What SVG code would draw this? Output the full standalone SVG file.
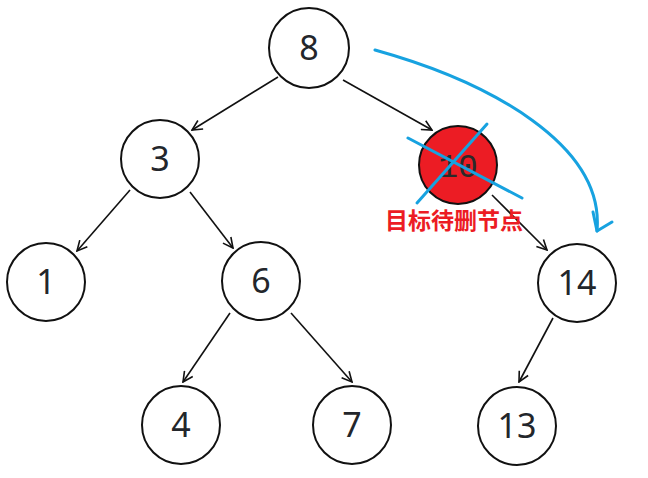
<svg xmlns="http://www.w3.org/2000/svg" width="648" height="478" viewBox="0 0 648 478">
<style>
.n{fill:#fff;stroke:#111;stroke-width:2}
.t{font-family:"Noto Sans","Open Sans",sans-serif;font-size:34px;fill:#23262b;text-anchor:middle}
.e{stroke:#111;stroke-width:1.6;fill:none;marker-end:url(#ah)}
.b{stroke:#17a2e0;stroke-width:3;fill:none;stroke-linecap:round;stroke-linejoin:round}
</style>
<defs>
<marker id="ah" viewBox="0 0 12 12" refX="11" refY="6" markerWidth="12" markerHeight="12" markerUnits="userSpaceOnUse" orient="auto">
<path d="M1,1 L11,6 L1,11" fill="none" stroke="#111" stroke-width="1.6"/>
</marker>
</defs>
<g id="connectors">
<line class="e" x1="278" y1="77" x2="192" y2="130"/>
<line class="e" x1="343" y1="80" x2="432" y2="130"/>
<line class="e" x1="130" y1="190" x2="77" y2="251"/>
<line class="e" x1="190" y1="192" x2="233" y2="248"/>
<line class="e" x1="230" y1="313" x2="183" y2="382"/>
<line class="e" x1="291" y1="313" x2="352" y2="382"/>
<line class="e" x1="492" y1="195" x2="547" y2="250"/>
<line class="e" x1="553" y1="318" x2="519" y2="382"/>
<path class="b" d="M375,50 C490,82 605,145 597,231"/>
<path class="b" d="M593,212 L597,231 L612,222"/>
</g>
<g id="n8"><circle class="n" cx="309" cy="48" r="40"/><text class="t" x="309" y="60">8</text></g>
<g id="n3"><circle class="n" cx="160" cy="159" r="39"/><text class="t" x="160" y="171">3</text></g>
<g id="n10">
<circle cx="458" cy="165" r="39" fill="#ec1c24" stroke="#111" stroke-width="2"/>
<text x="458" y="177" font-family="Liberation Mono,monospace" font-size="33" fill="#2a2a2a" text-anchor="middle">10</text>
<line class="b" x1="408" y1="138" x2="522" y2="198"/>
<line class="b" x1="487" y1="124" x2="417" y2="203"/>
<text x="454" y="229" font-family="Noto Sans CJK SC,sans-serif" font-weight="bold" font-size="23" fill="#ec1c24" text-anchor="middle">目标待删节点</text>
</g>
<g id="n1"><circle class="n" cx="46" cy="282" r="39"/><text class="t" x="46" y="294">1</text></g>
<g id="n6"><circle class="n" cx="261" cy="281" r="39"/><text class="t" x="261" y="293">6</text></g>
<g id="n14"><circle class="n" cx="577" cy="283" r="39"/><text class="t" x="577" y="295">14</text></g>
<g id="n4"><circle class="n" cx="181" cy="425" r="39"/><text class="t" x="181" y="437">4</text></g>
<g id="n7"><circle class="n" cx="352" cy="425" r="39"/><text class="t" x="352" y="437">7</text></g>
<g id="n13"><circle class="n" cx="517" cy="426" r="39"/><text class="t" x="517" y="438">13</text></g>
</svg>
